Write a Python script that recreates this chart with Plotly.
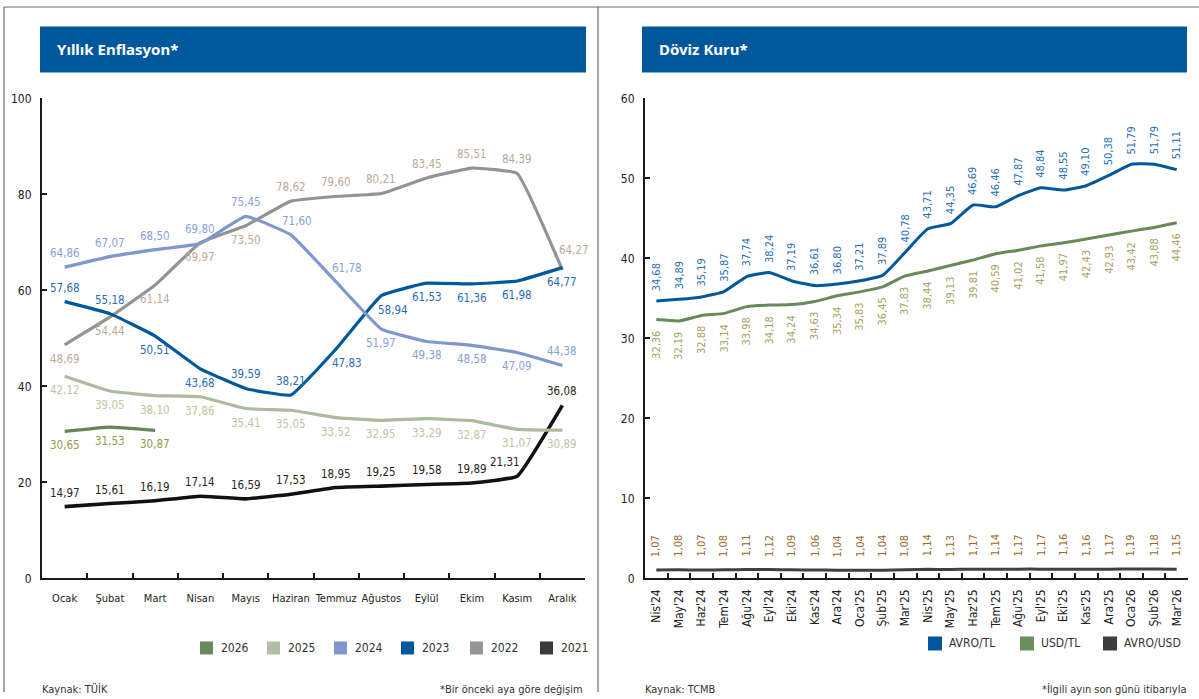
import plotly.graph_objects as go

# ---------------- DATA ----------------
months = ["Ocak", "Şubat", "Mart", "Nisan", "Mayıs", "Haziran", "Temmuz",
          "Ağustos", "Eylül", "Ekim", "Kasım", "Aralık"]
infl_2026 = [30.65, 31.53, 30.87]
infl_2025 = [42.12, 39.05, 38.10, 37.86, 35.41, 35.05, 33.52, 32.95, 33.29, 32.87, 31.07, 30.89]
infl_2024 = [64.86, 67.07, 68.50, 69.80, 75.45, 71.60, 61.78, 51.97, 49.38, 48.58, 47.09, 44.38]
infl_2023 = [57.68, 55.18, 50.51, 43.68, 39.59, 38.21, 47.83, 58.94, 61.53, 61.36, 61.98, 64.77]
infl_2022 = [48.69, 54.44, 61.14, 69.97, 73.50, 78.62, 79.60, 80.21, 83.45, 85.51, 84.39, 64.27]
infl_2021 = [14.97, 15.61, 16.19, 17.14, 16.59, 17.53, 18.95, 19.25, 19.58, 19.89, 21.31, 36.08]

fx_months = ["Nis'24", "May'24", "Haz'24", "Tem'24", "Ağu'24", "Eyl'24", "Eki'24", "Kas'24",
             "Ara'24", "Oca'25", "Şub'25", "Mar'25", "Nis'25", "May'25", "Haz'25", "Tem'25",
             "Ağu'25", "Eyl'25", "Eki'25", "Kas'25", "Ara'25", "Oca'26", "Şub'26", "Mar'26"]
eur_try = [34.68, 34.89, 35.19, 35.87, 37.74, 38.24, 37.19, 36.61, 36.80, 37.21, 37.89, 40.78,
           43.71, 44.35, 46.69, 46.46, 47.87, 48.84, 48.55, 49.10, 50.38, 51.79, 51.79, 51.11]
usd_try = [32.36, 32.19, 32.88, 33.14, 33.98, 34.18, 34.24, 34.63, 35.34, 35.83, 36.45, 37.83,
           38.44, 39.13, 39.81, 40.59, 41.02, 41.58, 41.97, 42.43, 42.93, 43.42, 43.88, 44.46]
eur_usd = [1.07, 1.08, 1.07, 1.08, 1.11, 1.12, 1.09, 1.06, 1.04, 1.04, 1.04, 1.08,
           1.14, 1.13, 1.17, 1.14, 1.17, 1.17, 1.16, 1.16, 1.17, 1.19, 1.18, 1.15]

# ---------------- STYLE ----------------
W, H = 1199, 699
FONT = "Liberation Sans Narrow, DejaVu Sans Condensed, Arial Narrow, sans-serif"
BLUE_BAR = "#00589c"

def px_x(p):
    return p / W

def px_y(p):
    # vertical page position (measured on the reference) -> paper fraction
    q = (p - 6.5) / 0.98
    return min(1.0, max(0.0, 1 - q / H))

infl_series = [
    # name, values, line colour, label colour, legend colour, placements (a=above, b=below)
    ("2026", infl_2026, "#62865a", "#959a52", "#6a8a5c", "bbb"),
    ("2025", infl_2025, "#abbb9d", "#c3c3a3", "#b0bea4", "bbbbbbbbbbbb"),
    ("2024", infl_2024, "#7f97cc", "#8aa0d4", "#7f97cc", "aaaaaaabbbba"),
    ("2023", infl_2023, "#00589c", "#2a6db2", "#00579d", "aabbaabbbbbb"),
    ("2022", infl_2022, "#939393", "#bcaa98", "#939598", "bbbbbaaaaaaa"),
    ("2021", infl_2021, "#111111", "#2b2420", "#3a3a3a", "aaaaaaaaaaaa"),
]
# (series, index) -> (xshift, extra yshift)
label_nudge = {
    ("2024", 6): (11, 0), ("2024", 5): (6, 0),
    ("2023", 6): (11, 0), ("2023", 7): (12, 0),
    ("2022", 11): (12, 6),
    ("2021", 10): (-12, 0),
}

fx_series = [
    ("AVRO/TL", eur_try, "#00589c", "#2a6fb8", "above"),
    ("USD/TL", usd_try, "#668a58", "#a8a262", "below"),
    ("AVRO/USD", eur_usd, "#404040", "#9a6a2a", "above"),
]

def fmt(v):
    return f"{v:.2f}".replace(".", ",")

fig = go.Figure()
annotations = []
shapes = []

# ---- left chart ----
for name, vals, lc, tc, _, place in reversed(infl_series):
    xs = months[:len(vals)]
    fig.add_trace(go.Scatter(
        x=xs, y=vals, mode="lines", name=name, showlegend=False,
        line=dict(color=lc, width=3.2 if name != "2021" else 3.6, shape="spline", smoothing=0.3),
        xaxis="x", yaxis="y", hoverinfo="skip"))
    for i, (m, v) in enumerate(zip(xs, vals)):
        dx, dy = label_nudge.get((name, i), (0, 0))
        ys = 14 if place[i] == "a" else -14
        ys += dy if ys > 0 else -dy
        annotations.append(dict(
            x=m, y=v, xref="x", yref="y", text=fmt(v), showarrow=False,
            xshift=dx, yshift=ys, xanchor="center", yanchor="middle",
            font=dict(family=FONT, size=11.5, color=tc)))

# ---- right chart ----
for name, vals, lc, tc, place in fx_series:
    fig.add_trace(go.Scatter(
        x=fx_months, y=vals, mode="lines", name=name, showlegend=False,
        line=dict(color=lc, width=3, shape="spline", smoothing=0.4),
        xaxis="x2", yaxis="y2", hoverinfo="skip"))
    for m, v in zip(fx_months, vals):
        above = place == "above"
        annotations.append(dict(
            x=m, y=v, xref="x2", yref="y2", text=fmt(v), showarrow=False,
            textangle=-90, xanchor="center",
            yanchor="bottom" if above else "top",
            yshift=(8 if name == "AVRO/TL" else 11) if above else -9,
            font=dict(family=FONT, size=11, color=tc)))

# ---- title bars ----
for x0, x1, title in [(40, 586, "Yıllık Enflasyon*"), (642, 1187, "Döviz Kuru*")]:
    shapes.append(dict(type="rect", xref="paper", yref="paper",
                       x0=px_x(x0), x1=px_x(x1), y0=px_y(72), y1=px_y(26),
                       fillcolor=BLUE_BAR, line=dict(width=0), layer="below"))
    annotations.append(dict(x=px_x(x0 + 15), y=px_y(49), xref="paper", yref="paper",
                            text=f"<b>{title}</b>", showarrow=False, xanchor="left",
                            yanchor="middle",
                            font=dict(family="Noto Sans, Open Sans, sans-serif", size=15, color="white")))

# ---- frame lines ----
for (x0, y0, x1, y1) in [(4, 5, 1199, 5), (4, 5, 4, 699), (598, 5, 598, 699)]:
    shapes.append(dict(type="line", xref="paper", yref="paper",
                       x0=px_x(x0), x1=px_x(x1), y0=px_y(y0), y1=px_y(y1),
                       line=dict(color="#6b6b6b", width=1.2)))

# ---- legends (manual squares) ----
left_leg_x = [200, 267, 334, 401, 470, 540]
for (name, _, _, _, sq, _), lx in zip(infl_series, left_leg_x):
    shapes.append(dict(type="rect", xref="paper", yref="paper",
                       x0=px_x(lx), x1=px_x(lx + 13), y0=px_y(654), y1=px_y(641),
                       fillcolor=sq, line=dict(width=0)))
    annotations.append(dict(x=px_x(lx + 19), y=px_y(647.5), xref="paper", yref="paper",
                            text=name, showarrow=False, xanchor="left", yanchor="middle",
                            font=dict(family=FONT, size=12, color="#333")))
right_leg_x = [928, 1020, 1103]
right_sq = ["#00579d", "#6c8f5e", "#3d3d3d"]
for (name, *_), lx, sq in zip(fx_series, right_leg_x, right_sq):
    shapes.append(dict(type="rect", xref="paper", yref="paper",
                       x0=px_x(lx), x1=px_x(lx + 14), y0=px_y(650), y1=px_y(636),
                       fillcolor=sq, line=dict(width=0)))
    annotations.append(dict(x=px_x(lx + 19), y=px_y(643), xref="paper", yref="paper",
                            text=name, showarrow=False, xanchor="left", yanchor="middle",
                            font=dict(family=FONT, size=12, color="#333")))

# ---- footers ----
foot = dict(family=FONT, size=11, color="#333")
for x, txt, anc in [(40, "Kaynak: TÜİK", "left"), (585, "*Bir önceki aya göre değişim", "right"),
                    (643, "Kaynak: TCMB", "left"), (1188, "*İlgili ayın son günü itibarıyla", "right")]:
    annotations.append(dict(x=px_x(x), y=px_y(689), xref="paper", yref="paper", text=txt,
                            showarrow=False, xanchor=anc, yanchor="middle", font=foot))

axis_common = dict(showline=True, linecolor="#1a1a1a", linewidth=2, showgrid=False,
                   zeroline=False, ticks="inside", ticklen=5, tickcolor="#1a1a1a",
                   tickwidth=1.5)
tf = dict(family=FONT, size=12, color="#222")

fig.update_layout(
    width=W, height=H, margin=dict(l=0, r=0, t=0, b=0),
    paper_bgcolor="white", plot_bgcolor="white", showlegend=False,
    xaxis=dict(domain=[px_x(42), px_x(585)], type="category", categoryorder="array",
               categoryarray=months, range=[-0.5, 11.5], tickson="boundaries",
               tickangle=0, anchor="y", ticklabelstandoff=8,
               tickfont=dict(family=FONT, size=11, color="#222"), **axis_common),
    yaxis=dict(domain=[px_y(578), px_y(98)], range=[0, 100], dtick=20, anchor="x",
               ticklabelstandoff=6, tickfont=tf, **axis_common),
    xaxis2=dict(domain=[px_x(645), px_x(1188)], type="category", categoryorder="array",
                categoryarray=fx_months, range=[-0.5, 23.5], tickson="boundaries",
                tickangle=-90, anchor="y2", ticklabelstandoff=4, tickfont=tf, **axis_common),
    yaxis2=dict(domain=[px_y(578), px_y(98)], range=[0, 60], dtick=10, anchor="x2",
                ticklabelstandoff=6, tickfont=tf, **axis_common),
    annotations=annotations, shapes=shapes,
)

post = ("document.documentElement.style.margin='0';document.body.style.margin='0';"
        "document.documentElement.style.overflow='hidden';document.body.style.overflow='hidden';"
        "var d=document.getElementById('{plot_id}');d.style.position='fixed';"
        "d.style.top='0';d.style.left='0';")
fig.write_html("out.html", config={"displayModeBar": False}, post_script=post)
